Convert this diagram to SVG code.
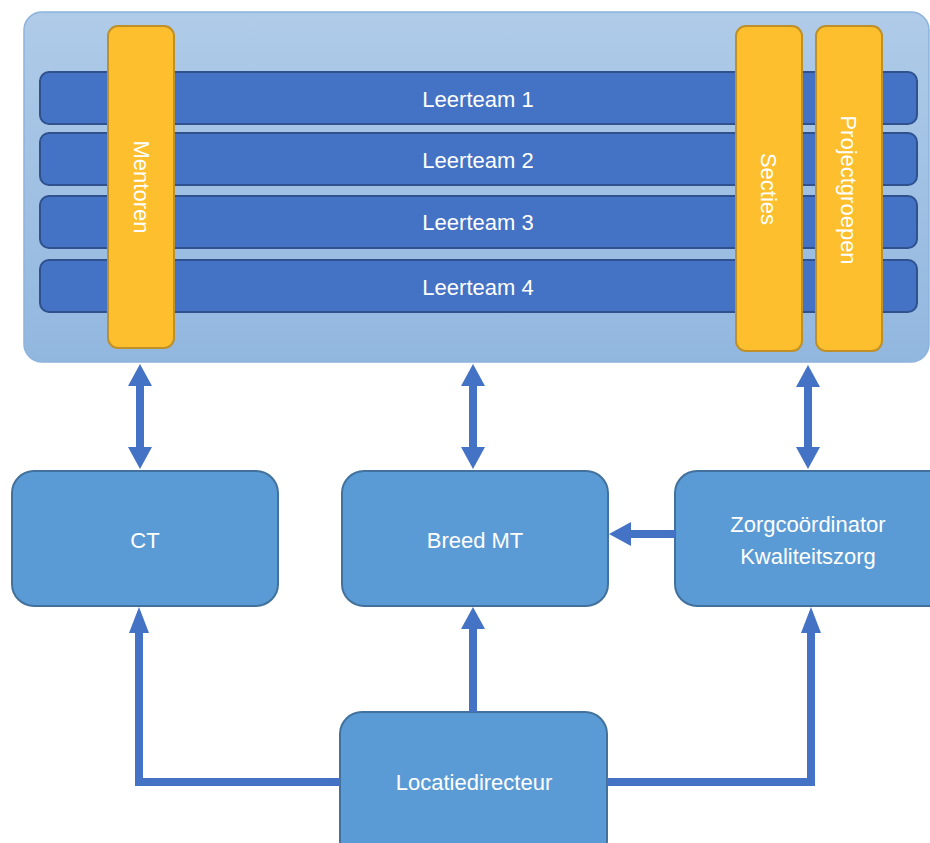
<svg xmlns="http://www.w3.org/2000/svg" width="930" height="843" viewBox="0 0 930 843">
<defs>
<linearGradient id="bg" x1="0" y1="0" x2="0" y2="1">
<stop offset="0" stop-color="#afcbe8"/>
<stop offset="1" stop-color="#92b7df"/>
</linearGradient>
<marker id="head" markerUnits="userSpaceOnUse" markerWidth="22" markerHeight="24" refX="0" refY="12" orient="auto-start-reverse" viewBox="0 0 22 24">
<path d="M0,0 L22,12 L0,24 z" fill="#4472c4"/>
</marker>
<marker id="headS" markerUnits="userSpaceOnUse" markerWidth="26" markerHeight="20" refX="0" refY="10" orient="auto-start-reverse" viewBox="0 0 26 20">
<path d="M0,0 L26,10 L0,20 z" fill="#4472c4"/>
</marker>
<style>
.bar{fill:#4472c4;stroke:#2f528f;stroke-width:2}
.col{fill:#fdbf2d;stroke:#bf9028;stroke-width:2}
.box{fill:#5b9bd5;stroke:#41719c;stroke-width:2}
.t{font-family:"Liberation Sans",Arial,sans-serif;font-size:22px;fill:#ffffff;text-anchor:middle;dominant-baseline:central}
.c{fill:none;stroke:#4472c4;stroke-width:8}
</style>
</defs>
<g id="container">
<rect x="24" y="12" width="905" height="350" rx="18" fill="url(#bg)" stroke="#8db3dd" stroke-width="1.5"/>
</g>
<g id="leerteam1"><rect class="bar" x="40" y="72" width="877" height="52" rx="9"/><text class="t" x="478" y="99">Leerteam 1</text></g>
<g id="leerteam2"><rect class="bar" x="40" y="133" width="877" height="52" rx="9"/><text class="t" x="478" y="160">Leerteam 2</text></g>
<g id="leerteam3"><rect class="bar" x="40" y="196" width="877" height="52" rx="9"/><text class="t" x="478" y="222">Leerteam 3</text></g>
<g id="leerteam4"><rect class="bar" x="40" y="260" width="877" height="52" rx="9"/><text class="t" x="478" y="287">Leerteam 4</text></g>
<g id="mentoren"><rect class="col" x="108" y="26" width="66" height="322" rx="10"/><text class="t" transform="translate(141,187) rotate(90)">Mentoren</text></g>
<g id="secties"><rect class="col" x="736" y="26" width="66" height="325" rx="10"/><text class="t" transform="translate(768,189) rotate(90)">Secties</text></g>
<g id="projectgroepen"><rect class="col" x="816" y="26" width="66" height="325" rx="10"/><text class="t" transform="translate(848,190) rotate(90)">Projectgroepen</text></g>
<g id="ct"><rect class="box" x="12" y="471" width="266" height="135" rx="22"/><text class="t" x="145" y="540">CT</text></g>
<g id="breedmt"><rect class="box" x="342" y="471" width="266" height="135" rx="22"/><text class="t" x="475" y="540">Breed MT</text></g>
<g id="zorg"><rect class="box" x="675" y="471" width="275" height="135" rx="22"/><text class="t" x="808" y="524">Zorgcoördinator</text><text class="t" x="808" y="556">Kwaliteitszorg</text></g>
<g id="locatiedirecteur"><rect class="box" x="340" y="712" width="267" height="150" rx="22"/><text class="t" x="474" y="782">Locatiedirecteur</text></g>
<g id="connectors">
<line class="c" x1="140" y1="386" x2="140" y2="447" marker-start="url(#head)" marker-end="url(#head)"/>
<line class="c" x1="473" y1="386" x2="473" y2="447" marker-start="url(#head)" marker-end="url(#head)"/>
<line class="c" x1="808" y1="387" x2="808" y2="447" marker-start="url(#head)" marker-end="url(#head)"/>
<line class="c" x1="675" y1="534" x2="631" y2="534" marker-end="url(#head)"/>
<polyline class="c" points="340,782 139,782 139,633" stroke-width="7" marker-end="url(#headS)"/>
<line class="c" x1="473" y1="712" x2="473" y2="629" stroke-width="7" marker-end="url(#head)"/>
<polyline class="c" points="607,782 811,782 811,633" stroke-width="7" marker-end="url(#headS)"/>
</g>
</svg>
